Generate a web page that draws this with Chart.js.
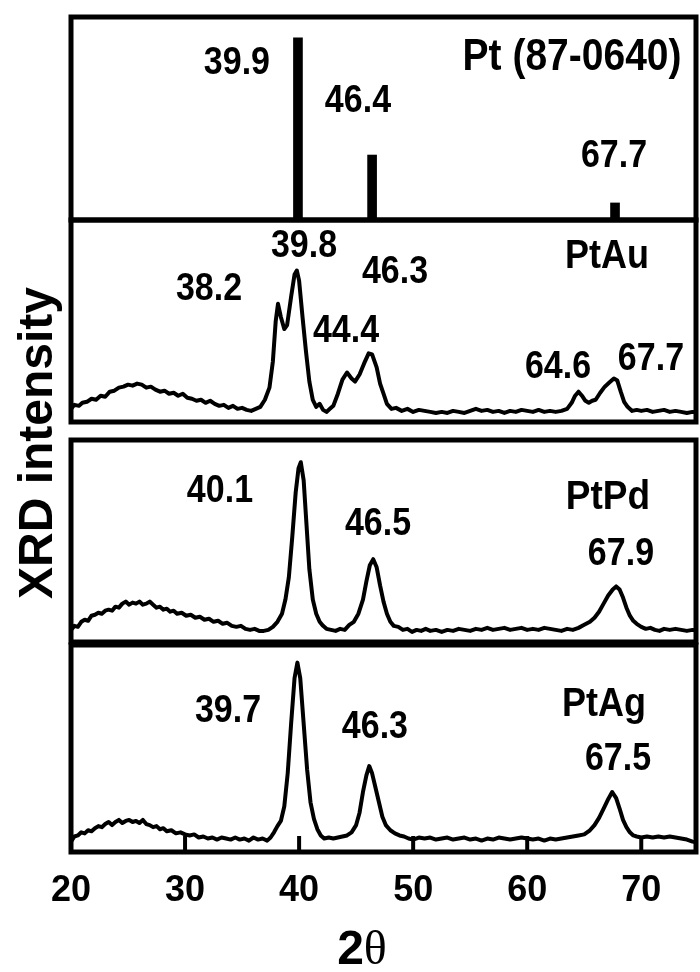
<!DOCTYPE html>
<html>
<head>
<meta charset="utf-8">
<script src="https://cdn.jsdelivr.net/npm/chart.js@4.4.1/dist/chart.umd.min.js"></script>
<style>
    body { margin: 0; background: #fff; width: 700px; height: 972px; position: relative; overflow: hidden; font-family: "Liberation Sans", Arial, sans-serif; }
    canvas { position: absolute; left: 0; }
    #tituloY { position: absolute; left: -164px; top: 415px; width: 400px; height: 56px; line-height: 56px; text-align: center; font-weight: bold; font-size: 48px; transform: rotate(-90deg); }
    #tituloX { position: absolute; left: 262px; top: 920px; width: 200px; height: 56px; line-height: 56px; text-align: center; font-weight: bold; font-size: 48px; }
    #tituloX span { font-family: "Liberation Serif", "DejaVu Serif", serif; font-weight: normal; }
</style>
</head>
<body>
<canvas id="GraficoPt" width="700" height="226" style="top:0px"></canvas>
<canvas id="GraficoPtAu" width="700" height="214" style="top:214px"></canvas>
<canvas id="GraficoPtPd" width="700" height="214" style="top:434px"></canvas>
<canvas id="GraficoPtAg" width="700" height="333" style="top:639px"></canvas>
<div id="tituloY">XRD intensity</div>
<div id="tituloX">2<span>θ</span></div>

<script>
/*Dados (2θ em graus, intensidade relativa 0-100 por painel)*/
var refPos = [39.9, 46.4, 67.7];
var refInt = [89.7, 32.0, 8.4];

var ptAuPos = [20.0, 20.3, 20.7, 21.0, 21.4, 21.8, 22.2, 22.6, 23.0, 23.4,
    23.8, 24.2, 24.6, 25.0, 25.4, 25.8, 26.2, 26.6, 27.0, 27.4,
    27.8, 28.2, 28.6, 29.0, 29.4, 29.8, 30.2, 30.6, 31.0, 31.4,
    31.8, 32.2, 32.6, 33.0, 33.4, 33.8, 34.2, 34.6, 35.0, 35.4,
    35.8, 36.2, 36.6, 37.0, 37.4, 37.7, 37.95, 38.15, 38.4, 38.7,
    38.95, 39.3, 39.6, 39.8, 40.0, 40.3, 40.6, 40.9, 41.2, 41.5,
    41.8, 42.1, 42.4, 42.7, 43.0, 43.4, 43.8, 44.2, 44.6, 44.9,
    45.3, 45.7, 46.1, 46.4, 46.8, 47.1, 47.4, 47.7, 48.1, 48.5,
    49.0, 49.5, 50.0, 50.5, 51.0, 51.5, 52.0, 52.5, 53.0, 53.5,
    54.0, 54.5, 55.0, 55.5, 56.0, 56.5, 57.0, 57.5, 58.0, 58.5,
    59.0, 59.5, 60.0, 60.5, 61.0, 61.5, 62.0, 62.5, 63.0, 63.5,
    63.9, 64.2, 64.5, 64.8, 65.1, 65.4, 65.7, 66.0, 66.4, 66.8,
    67.2, 67.6, 67.9, 68.2, 68.5, 68.8, 69.2, 69.6, 70.0, 70.5,
    71.0, 71.5, 72.0, 72.5, 73.0, 73.5, 74.0, 74.5, 75.0];
var ptAuInt = [6.5, 8.5, 8.0, 9.5, 10.0, 11.5, 11.0, 13.0, 12.5, 15.0,
    15.5, 17.0, 17.5, 18.5, 18.0, 19.0, 18.5, 17.0, 17.5, 16.0,
    15.0, 15.5, 14.0, 14.5, 13.0, 14.0, 12.0, 11.5, 10.5, 11.0,
    9.5, 10.5, 9.0, 8.0, 8.5, 7.0, 8.0, 6.5, 7.0, 6.0,
    5.5, 6.5, 7.5, 11.0, 17.0, 30.0, 50.0, 58.5, 52.0, 46.0,
    48.0, 62.0, 73.0, 75.0, 70.0, 52.0, 35.0, 20.0, 11.0, 7.5,
    9.0, 6.0, 5.0, 6.5, 8.0, 14.0, 21.0, 24.5, 21.5, 20.0,
    23.5, 29.0, 34.0, 33.5, 27.0, 19.0, 14.0, 9.0, 6.5, 7.0,
    5.5, 6.5, 5.0, 6.0, 5.5, 5.0, 4.5, 5.0, 4.5, 5.5,
    5.0, 4.5, 5.5, 6.5, 5.5, 6.0, 5.0, 5.5, 4.5, 5.5,
    5.0, 6.0, 5.5, 5.0, 6.0, 5.0, 5.5, 5.0, 5.5, 6.5,
    9.5, 13.0, 15.0, 13.0, 10.5, 9.5, 10.5, 11.0, 14.5, 17.5,
    19.5, 21.5, 20.5, 15.0, 10.0, 7.5, 5.5, 6.0, 5.5, 6.0,
    5.0, 5.5, 6.0, 5.0, 5.5, 5.0, 4.5, 5.0, 4.5];

var ptPdPos = [20.0, 20.3, 20.6, 20.9, 21.2, 21.5, 21.8, 22.1, 22.4, 22.7,
    23.0, 23.3, 23.6, 23.9, 24.2, 24.5, 24.8, 25.1, 25.4, 25.7,
    26.0, 26.3, 26.6, 26.9, 27.2, 27.5, 27.8, 28.1, 28.4, 28.7,
    29.0, 29.3, 29.7, 30.1, 30.5, 30.9, 31.3, 31.7, 32.1, 32.5,
    32.9, 33.3, 33.7, 34.1, 34.5, 34.9, 35.3, 35.7, 36.1, 36.5,
    36.9, 37.3, 37.7, 38.1, 38.5, 38.8, 39.1, 39.4, 39.7, 39.95,
    40.15, 40.4, 40.65, 40.9, 41.2, 41.5, 41.8, 42.1, 42.4, 42.8,
    43.2, 43.6, 44.0, 44.4, 44.8, 45.2, 45.6, 45.9, 46.2, 46.5,
    46.8, 47.1, 47.4, 47.7, 48.0, 48.3, 48.7, 49.1, 49.5, 49.9,
    50.3, 50.7, 51.1, 51.5, 52.0, 52.5, 53.0, 53.5, 54.0, 54.5,
    55.0, 55.5, 56.0, 56.5, 57.0, 57.5, 58.0, 58.5, 59.0, 59.5,
    60.0, 60.5, 61.0, 61.5, 62.0, 62.5, 63.0, 63.5, 64.0, 64.5,
    65.0, 65.5, 65.9, 66.3, 66.7, 67.1, 67.5, 67.8, 68.1, 68.4,
    68.7, 69.0, 69.3, 69.6, 70.0, 70.4, 70.8, 71.2, 71.6, 72.0,
    72.5, 73.0, 73.5, 74.0, 74.5, 75.0];
var ptPdInt = [6.0, 8.0, 7.5, 10.0, 11.0, 10.5, 13.0, 13.5, 14.5, 14.0,
    15.5, 16.0, 15.5, 17.5, 17.0, 19.0, 20.0, 18.5, 19.5, 19.0,
    20.0, 18.5, 19.0, 20.0, 18.5, 17.0, 17.5, 16.0, 16.5, 15.0,
    15.5, 14.0, 14.5, 13.0, 13.5, 12.0, 12.5, 11.0, 11.5, 10.0,
    10.5, 9.0, 9.5, 8.0, 7.5, 8.0, 6.5, 6.0, 6.5, 5.5,
    5.5, 6.0, 7.5, 10.0, 14.0, 21.0, 32.0, 52.0, 74.0, 86.0,
    89.0, 80.0, 58.0, 36.0, 21.0, 14.0, 10.0, 8.0, 6.5, 6.0,
    5.5, 6.5, 6.0, 8.5, 10.0, 14.0, 21.0, 30.0, 38.0, 41.0,
    37.0, 28.0, 20.0, 14.0, 10.0, 8.0, 7.5, 6.0, 6.5, 5.0,
    6.0, 5.5, 6.5, 5.5, 6.0, 5.0, 6.0, 5.5, 6.5, 6.0,
    5.5, 6.5, 6.0, 7.0, 6.0, 6.5, 7.0, 6.0, 6.5, 7.0,
    6.0, 6.5, 6.0, 7.0, 6.5, 6.0, 5.5, 6.5, 6.0, 7.0,
    8.5, 10.0, 12.0, 15.0, 19.0, 23.0, 26.0, 27.5, 26.0, 22.0,
    17.0, 13.0, 10.5, 9.0, 7.5, 6.5, 7.0, 6.0, 5.5, 6.5,
    6.0, 6.5, 6.0, 5.5, 6.0, 5.5];

var ptAgPos = [20.0, 20.3, 20.6, 20.9, 21.2, 21.5, 21.8, 22.1, 22.4, 22.7,
    23.0, 23.3, 23.6, 23.9, 24.2, 24.5, 24.8, 25.1, 25.4, 25.7,
    26.0, 26.3, 26.6, 26.9, 27.2, 27.5, 27.8, 28.1, 28.4, 28.8,
    29.2, 29.6, 30.0, 30.4, 30.8, 31.2, 31.6, 32.0, 32.4, 32.8,
    33.2, 33.6, 34.0, 34.4, 34.8, 35.2, 35.6, 36.0, 36.4, 36.8,
    37.2, 37.5, 37.8, 38.1, 38.4, 38.7, 39.0, 39.3, 39.6, 39.85,
    40.1, 40.4, 40.7, 41.0, 41.3, 41.6, 41.9, 42.2, 42.6, 43.0,
    43.4, 43.8, 44.2, 44.6, 45.0, 45.3, 45.6, 45.9, 46.15, 46.4,
    46.7, 47.0, 47.3, 47.6, 48.0, 48.4, 48.8, 49.2, 49.6, 50.0,
    50.5, 51.0, 51.5, 52.0, 52.5, 53.0, 53.5, 54.0, 54.5, 55.0,
    55.5, 56.0, 56.5, 57.0, 57.5, 58.0, 58.5, 59.0, 59.5, 60.0,
    60.5, 61.0, 61.5, 62.0, 62.5, 63.0, 63.5, 64.0, 64.5, 65.0,
    65.5, 65.9, 66.3, 66.7, 67.1, 67.45, 67.8, 68.1, 68.4, 68.7,
    69.0, 69.3, 69.6, 70.0, 70.5, 71.0, 71.5, 72.0, 72.5, 73.0,
    73.5, 74.0, 74.5, 75.0];
var ptAgInt = [5.0, 7.5, 8.0, 9.5, 9.0, 10.5, 10.0, 11.5, 12.5, 12.0,
    13.5, 14.5, 13.0, 14.5, 15.5, 14.0, 15.0, 15.5, 14.5, 15.0,
    14.0, 15.5, 13.5, 13.0, 12.0, 12.5, 11.0, 11.5, 10.0, 10.5,
    9.0, 9.5, 8.5, 8.0, 8.5, 7.0, 7.5, 6.5, 7.0, 6.0,
    7.0, 6.5, 6.0, 7.0, 6.0, 6.5, 5.5, 7.0, 6.0, 6.5,
    5.5, 7.0, 9.5, 12.5, 15.0, 22.0, 38.0, 62.0, 84.0, 91.5,
    84.0, 62.0, 40.0, 24.0, 16.0, 11.0, 8.0, 6.5, 7.0, 6.5,
    7.0, 7.5, 8.0, 9.5, 13.0, 19.0, 29.0, 37.0, 41.5, 38.0,
    31.0, 24.0, 17.0, 13.0, 10.5, 9.0, 8.0, 7.5, 6.5, 6.0,
    7.0, 6.5, 7.0, 6.0, 6.5, 7.0, 6.0, 6.5, 7.0, 6.0,
    6.5, 5.5, 6.5, 6.0, 7.0, 6.5, 6.0, 6.5, 7.0, 6.5,
    6.0, 6.5, 5.5, 6.5, 6.0, 6.5, 7.0, 7.5, 8.0, 8.5,
    10.5, 13.0, 16.5, 21.0, 25.5, 29.0, 26.0, 21.0, 15.5, 12.0,
    9.5, 8.0, 7.5, 7.0, 7.5, 7.0, 7.5, 7.0, 7.5, 7.0,
    6.5, 6.0, 5.0, 4.5];

var ticksX = [20, 30, 40, 50, 60, 70];

/*Rótulos de cada painel*/
var textosPt = ['39.9', '46.4', '67.7', 'Pt (87-0640)'];
var textosPtAu = ['38.2', '39.8', '46.3', '44.4', 'PtAu', '64.6', '67.7'];
var textosPtPd = ['40.1', '46.5', 'PtPd', '67.9'];
var textosPtAg = ['39.7', '46.3', 'PtAg', '67.5'];

/*Posição dos rótulos (em unidades dos eixos) e tamanho da fonte*/
var rotulos = {
    GraficoPt: { textos: textosPt, x: [34.55, 45.16, 67.61, 63.93], y: [77.3, 58.6, 31.5, 79.8], tam: [34, 34, 34, 39] },
    GraficoPtAu: { textos: textosPtAu, x: [32.10, 40.43, 48.41, 44.11, 67.0, 62.70, 70.85], y: [65.8, 87.1, 73.8, 45.0, 81.7, 27.2, 30.7], tam: [34, 34, 34, 34, 36, 34, 34] },
    GraficoPtPd: { textos: textosPtPd, x: [33.06, 46.92, 67.08, 68.22], y: [74.4, 58.1, 71.4, 43.3], tam: [34, 34, 37, 34] },
    GraficoPtAg: { textos: textosPtAg, x: [33.77, 46.65, 66.73, 67.96], y: [67.8, 60.0, 71.2, 44.9], tam: [34, 34, 36, 34] }
};

/*Moldura, marcas internas e rótulos*/
var moldura = {
    id: 'moldura',
    afterDraw: function (chart) {
        var a = chart.chartArea;
        var ctx = chart.ctx;
        var sx = chart.scales.x;
        var sy = chart.scales.y;
        ctx.save();
        ctx.strokeStyle = '#000';
        ctx.lineWidth = 5;
        ctx.strokeRect(a.left, a.top, a.right - a.left, a.bottom - a.top);

        if (chart.canvas.id == 'GraficoPtAg') {
            ctx.lineWidth = 4;
            ticksX.forEach(function (t) {
                var px = sx.getPixelForValue(t);
                ctx.beginPath();
                ctx.moveTo(px, a.bottom);
                ctx.lineTo(px, a.bottom - 16);
                ctx.stroke();
            });
        }

        var r = rotulos[chart.canvas.id];
        ctx.fillStyle = '#000';
        ctx.textAlign = 'center';
        ctx.textBaseline = 'middle';
        r.textos.forEach(function (txt, i) {
            ctx.save();
            ctx.translate(sx.getPixelForValue(r.x[i]), sy.getPixelForValue(r.y[i]));
            ctx.scale(1, 1.12);
            ctx.font = 'bold ' + r.tam[i] + 'px "Liberation Sans", Arial, sans-serif';
            ctx.fillText(txt, 0, 0);
            ctx.restore();
        });
        ctx.restore();
    }
};

function pares(xs, ys) {
    return xs.map(function (v, i) { return { x: v, y: ys[i] }; });
}

function opcoes(padTop, padBottom, eixoX) {
    return {
        responsive: false,
        maintainAspectRatio: false,
        animation: false,
        layout: { padding: { left: 71, right: 4, top: padTop, bottom: padBottom } },
        plugins: { legend: { display: false }, tooltip: { enabled: false } },
        scales: {
            x: eixoX || { type: 'linear', display: false, offset: false, min: 20, max: 74.8 },
            y: { display: false, min: 0, max: 100 }
        }
    };
}

function serie(xs, ys) {
    return {
        data: pares(xs, ys),
        borderColor: '#000',
        borderWidth: 4,
        pointRadius: 0,
        tension: 0,
        borderJoinStyle: 'round'
    };
}

/*Construção dos gráficos*/
var graficoPt = new Chart(document.getElementById('GraficoPt').getContext('2d'), {
    type: 'bar',
    data: {
        datasets: [{
            data: pares(refPos, refInt),
            backgroundColor: '#000',
            barThickness: 9
        }]
    },
    options: opcoes(17, 6),
    plugins: [moldura]
});

var graficoPtAu = new Chart(document.getElementById('GraficoPtAu').getContext('2d'), {
    type: 'line',
    data: { datasets: [serie(ptAuPos, ptAuInt)] },
    options: opcoes(6, 6),
    plugins: [moldura]
});

var graficoPtPd = new Chart(document.getElementById('GraficoPtPd').getContext('2d'), {
    type: 'line',
    data: { datasets: [serie(ptPdPos, ptPdInt)] },
    options: opcoes(6, 6),
    plugins: [moldura]
});

var graficoPtAg = new Chart(document.getElementById('GraficoPtAg').getContext('2d'), {
    type: 'line',
    data: { datasets: [serie(ptAgPos, ptAgInt)] },
    options: opcoes(6, 0, {
        type: 'linear',
        min: 20,
        max: 74.8,
        afterFit: function (s) { s.height = 120; },
        afterBuildTicks: function (s) { s.ticks = ticksX.map(function (v) { return { value: v }; }); },
        grid: { display: false, drawTicks: false },
        border: { display: false },
        ticks: {
            padding: 17,
            color: '#000',
            autoSkip: false,
            maxRotation: 0,
            font: { size: 36, weight: 'bold', family: '"Liberation Sans", Arial, sans-serif' }
        }
    }),
    plugins: [moldura]
});
</script>
</body>
</html>
